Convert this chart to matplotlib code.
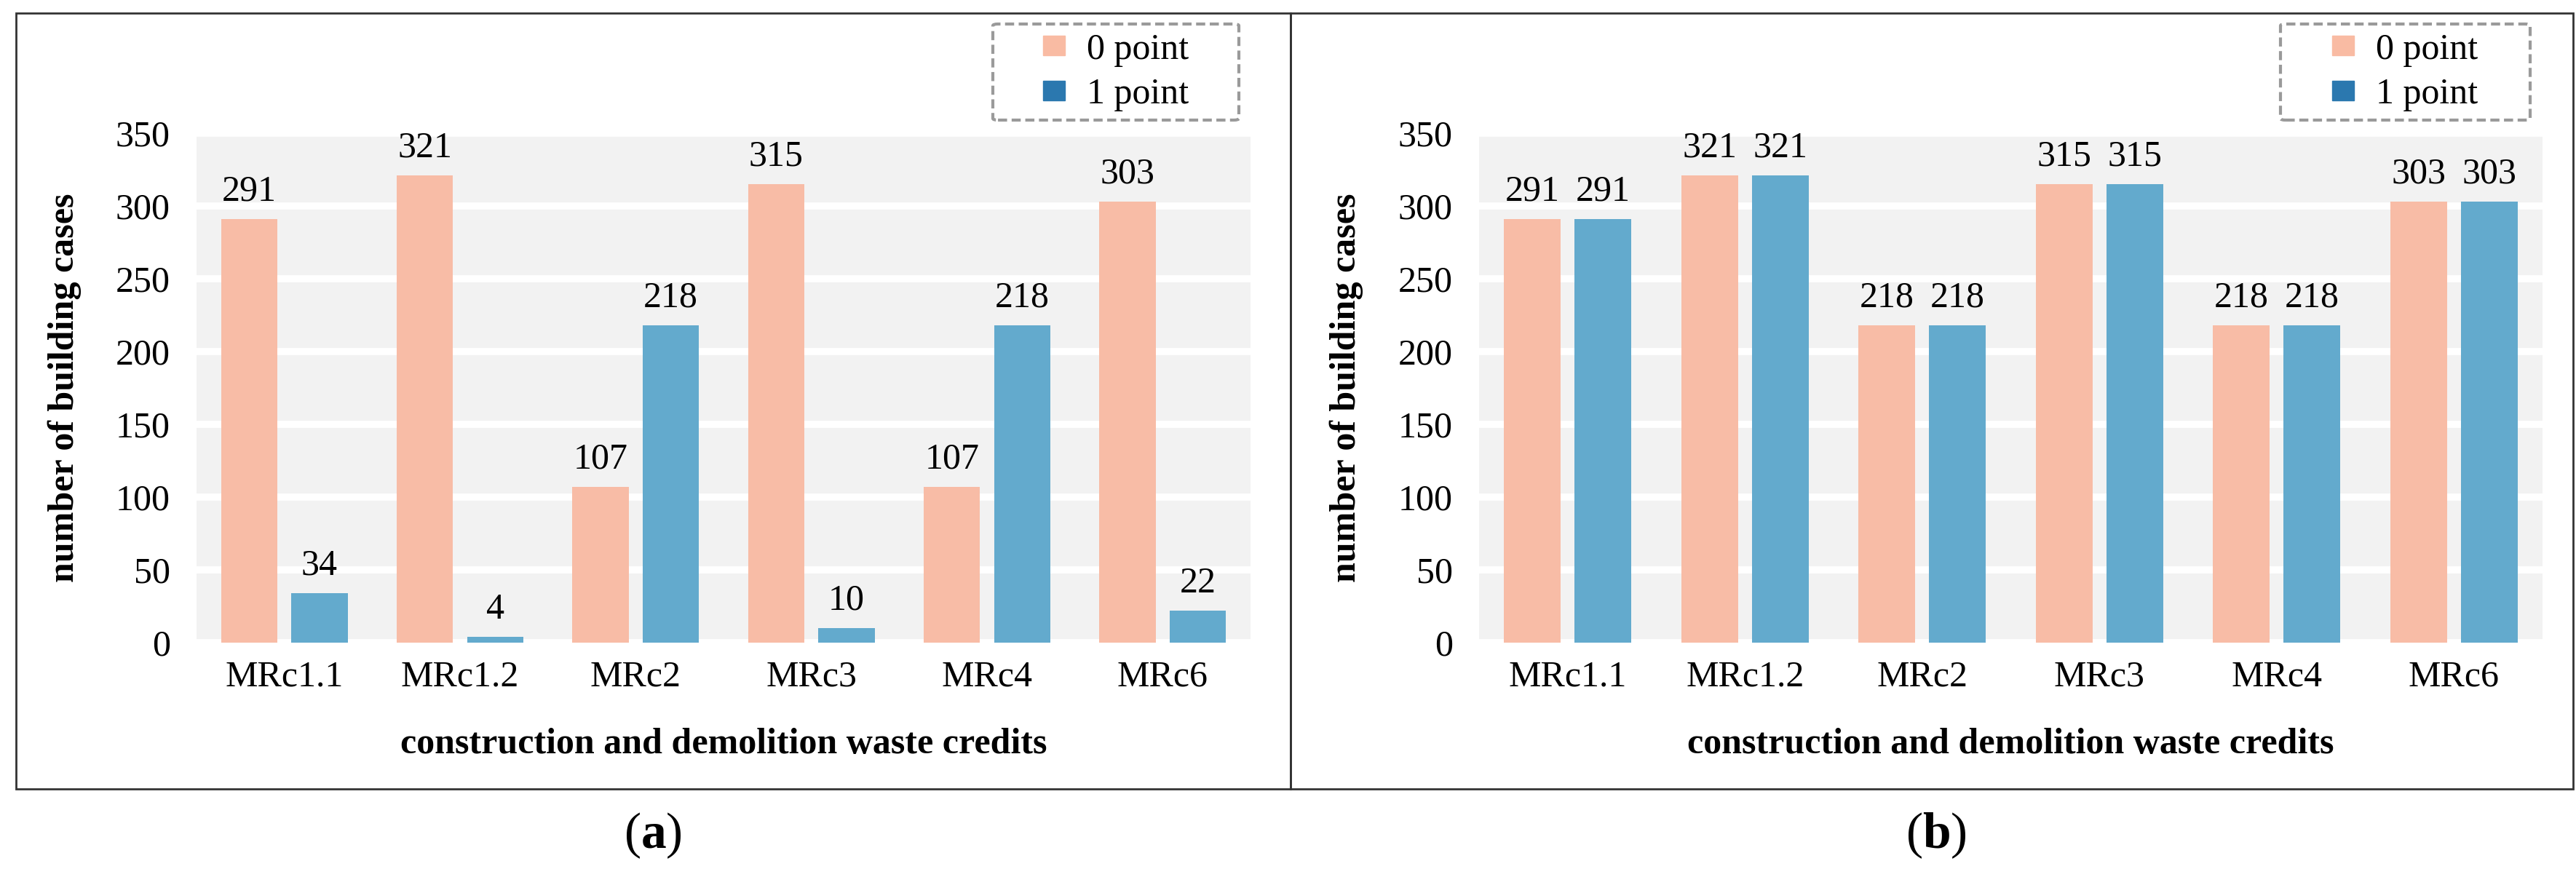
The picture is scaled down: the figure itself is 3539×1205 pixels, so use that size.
import matplotlib
matplotlib.use('Agg')
import numpy as np
import matplotlib.pyplot as plt
from matplotlib.patches import Patch, Rectangle, FancyBboxPatch

# 数据
categories = ['MRc1.1', 'MRc1.2', 'MRc2', 'MRc3', 'MRc4', 'MRc6']
a_zero = [291, 321, 107, 315, 107, 303]
a_one = [34, 4, 218, 10, 218, 22]
b_zero = [291, 321, 218, 315, 218, 303]
b_one = [291, 321, 218, 315, 218, 303]
series_names = ['0 point', '1 point']
yticks = [0, 50, 100, 150, 200, 250, 300, 350]

plt.rcParams['font.family'] = ['Liberation Serif', 'DejaVu Serif']
plt.rcParams['mathtext.fontset'] = 'custom'
plt.rcParams['mathtext.rm'] = 'Liberation Serif'
plt.rcParams['mathtext.bf'] = 'Liberation Serif:bold'

pink = '#F8BCA6'
blue = '#63AACD'
pink_leg = '#F9BBA3'
blue_leg = '#2B78AF'
fs = 36

W, H = 3539, 1205
fig = plt.figure(figsize=(W / 100, H / 100), dpi=100)


def draw(ax, zero, one, legbox):
    x = np.arange(len(categories))
    ax.set_facecolor('#F2F2F2')
    ax.grid(axis='y', color='white', linewidth=7)
    ax.set_axisbelow(True)
    b0 = ax.bar(x - 0.2, zero, width=0.32, color=pink, zorder=2)
    b1 = ax.bar(x + 0.2, one, width=0.32, color=blue, zorder=2)
    for bars in (b0, b1):
        for r in bars:
            ax.annotate(str(int(r.get_height())),
                        (r.get_x() + r.get_width() / 2, r.get_height()),
                        xytext=(0, 18), textcoords='offset points',
                        ha='center', va='baseline', fontsize=fs)
    ax.set_xlim(-0.5, len(categories) - 0.5)
    ax.set_ylim(0, 350)
    ax.set_yticks(yticks)
    ax.set_xticks(x)
    ax.set_xticklabels(categories)
    ax.tick_params(axis='both', length=0, labelsize=fs)
    ax.tick_params(axis='y', pad=26)
    ax.tick_params(axis='x', pad=17)
    for s in ax.spines.values():
        s.set_visible(False)
    ax.set_ylabel('number of building cases', fontsize=fs, fontweight='bold', va='center')
    ax.set_xlabel('construction and demolition waste credits', fontsize=fs,
                  fontweight='bold', va='center')
    ax.yaxis.set_label_coords(-181 / 1450, 0.5)
    ax.xaxis.set_label_coords(0.5, -140 / 700)

    # 图例 + 虚线框
    x0, y0, x1, y1 = legbox
    handles = [Patch(color=pink_leg), Patch(color=blue_leg)]
    ax.legend(handles, series_names, loc='center', fontsize=fs,
              bbox_to_anchor=((x0 + x1) / 2 / W, 1 - (y0 + y1) / 2 / H),
              bbox_transform=fig.transFigure,
              handlelength=0.6, handleheight=0.45, handletextpad=0.6,
              borderpad=0.2, labelspacing=0.3, frameon=False)
    fig.add_artist(FancyBboxPatch((x0 / W, 1 - y1 / H), (x1 - x0) / W, (y1 - y0) / H,
                                  boxstyle='round,pad=0,rounding_size=0.002',
                                  transform=fig.transFigure, fill=False,
                                  edgecolor='#9A9A9A', linewidth=3,
                                  linestyle=(0, (3, 1.5))))


ax1 = fig.add_axes([270 / W, 1 - 883 / H, 1448 / W, 700 / H])
draw(ax1, a_zero, a_one, (1364, 33, 1702, 165))
ax2 = fig.add_axes([2032 / W, 1 - 883 / H, 1461 / W, 700 / H])
draw(ax2, b_zero, b_one, (3133, 33, 3476, 165))

# 面板边框
for x0, x1 in [(22, 1773), (1773, 3535)]:
    fig.add_artist(Rectangle((x0 / W, 1 - 1084 / H), (x1 - x0) / W, (1084 - 18) / H,
                             transform=fig.transFigure, fill=False,
                             edgecolor='#333333', linewidth=2))

fig.text(897 / W, 1 - 1148 / H, r'($\mathbf{a}$)', ha='center', va='center', fontsize=50)
fig.text(2660 / W, 1 - 1148 / H, r'($\mathbf{b}$)', ha='center', va='center', fontsize=50)

fig.savefig('out.png', dpi=100)
